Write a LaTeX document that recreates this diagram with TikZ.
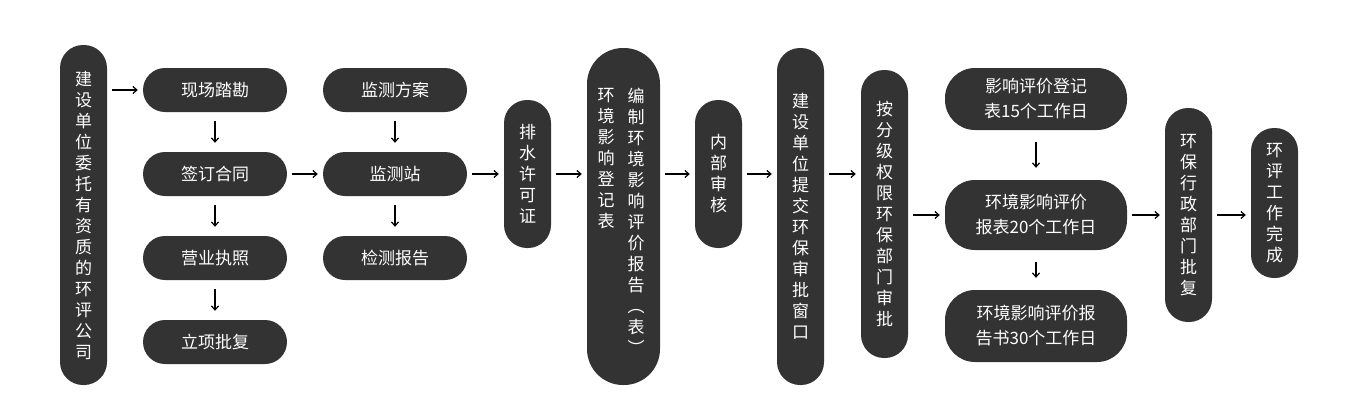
\documentclass[tikz,border=0pt]{standalone}
\usepackage{fontspec}
\setmainfont{Noto Sans CJK SC}
\usetikzlibrary{arrows.meta}
\definecolor{boxc}{HTML}{333333}
\begin{document}
\begin{tikzpicture}[x=1pt,y=-1pt,
 pill/.style={fill=boxc,text=white,inner sep=0pt,align=center,font=\fontsize{17}{21}\selectfont},
 hp/.style={pill,minimum width=144pt,minimum height=44pt,rounded corners=22pt},
 bp/.style={pill,minimum width=182pt,rounded corners=30pt,font=\fontsize{17}{25}\selectfont},
 vp/.style={pill,minimum width=47pt,rounded corners=23pt},
 ar/.style={-{Straight Barb[length=4pt,width=7pt]},line width=1.2pt,black,shorten >=5pt,shorten <=5pt},
 dr/.style={ar,shorten >=9pt,shorten <=9pt}]
\useasboundingbox (0,0) rectangle (1348,407);
\node[vp,minimum height=340pt] (a) at (83.5,215) {建\\设\\单\\位\\委\\托\\有\\资\\质\\的\\环\\评\\公\\司};
\node[hp] (b1) at (215,90) {现场踏勘};
\node[hp] (b2) at (215,174) {签订合同};
\node[hp] (b3) at (215,258) {营业执照};
\node[hp] (b4) at (215,342) {立项批复};
\node[hp] (c1) at (395,90) {监测方案};
\node[hp] (c2) at (395,174) {监测站};
\node[hp] (c3) at (395,258) {检测报告};
\node[vp,minimum height=148pt] (d) at (527.5,174) {排\\水\\许\\可\\证};
\node[pill,minimum width=73pt,minimum height=337pt,rounded corners=36pt] (e) at (623.5,216.5) {};
\node[pill,anchor=north] (e1) at (606,88) {环\\境\\影\\响\\登\\记\\表};
\node[pill,anchor=north] (e2) at (636,88) {编\\制\\环\\境\\影\\响\\评\\价\\报\\告\\︵\\表\\︶};
\node[vp,minimum height=148pt] (f) at (718.5,174) {内\\部\\审\\核};
\node[vp,minimum height=337pt] (g) at (800.5,216.5) {建\\设\\单\\位\\提\\交\\环\\保\\审\\批\\窗\\口};
\node[vp,minimum height=288pt] (h) at (884.5,214) {按\\分\\级\\权\\限\\环\\保\\部\\门\\审\\批};
\node[bp,minimum height=62pt] (i1) at (1036,99) {影响评价登记\\表15个工作日};
\node[bp,minimum height=70pt] (i2) at (1036,215) {环境影响评价\\报表20个工作日};
\node[bp,minimum height=72pt] (i3) at (1036,326) {环境影响评价报\\告书30个工作日};
\node[vp,minimum height=214pt] (j) at (1188.5,215) {环\\保\\行\\政\\部\\门\\批\\复};
\node[vp,minimum height=150pt] (k) at (1274.5,203) {环\\评\\工\\作\\完\\成};
\draw[ar] (a.east|-b1) -- (b1);
\draw[dr] (b1) -- (b2); \draw[dr] (b2) -- (b3); \draw[dr] (b3) -- (b4);
\draw[ar] (b2) -- (c2);
\draw[dr] (c1) -- (c2); \draw[dr] (c2) -- (c3);
\draw[ar] (c2) -- (d.west|-c2);
\draw[ar] (d.east|-c2) -- (e.west|-c2);
\draw[ar] (e.east|-c2) -- (f.west|-c2);
\draw[ar] (f.east|-c2) -- (g.west|-c2);
\draw[ar] (g.east|-c2) -- (h.west|-c2);
\draw[ar] (h.east|-i2) -- (i2);
\draw[ar,shorten >=12pt,shorten <=12pt] (i1) -- (i2); \draw[ar,shorten >=12pt,shorten <=12pt] (i2) -- (i3);
\draw[ar] (i2) -- (j);
\draw[ar] (j.east|-i2) -- (k.west|-i2);
\end{tikzpicture}
\end{document}
